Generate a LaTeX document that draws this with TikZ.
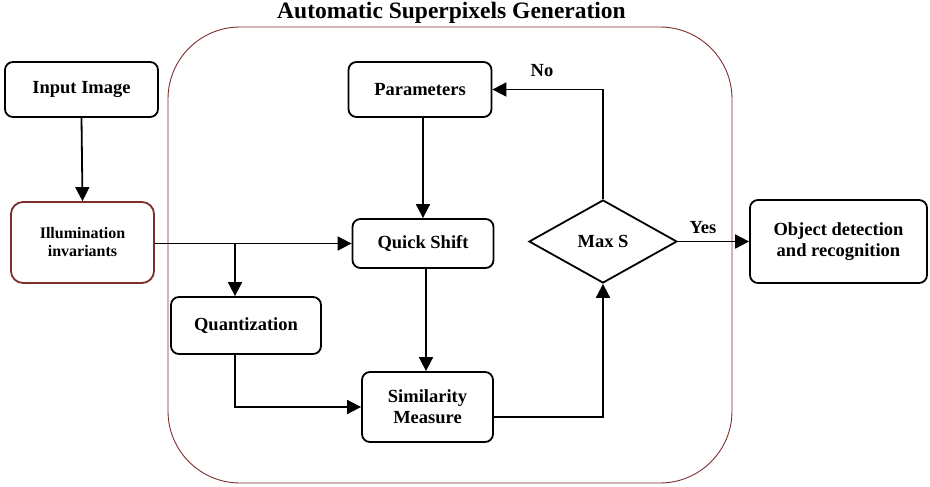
\documentclass[tikz,border=0pt]{standalone}
\usepackage{fontspec}
\setmainfont{Liberation Serif}
\usetikzlibrary{shapes.geometric,arrows.meta}
\definecolor{frame}{RGB}{125,45,45}
\tikzset{
  box/.style={draw=black, line width=1.8pt, rounded corners=8pt, rectangle, inner sep=0pt, align=center,
    font=\fontsize{18.5}{21}\selectfont\bfseries},
  conn/.style={line width=1.8pt, -{Triangle[length=14pt,width=14pt]}},
  lab/.style={font=\fontsize{18.5}{21}\selectfont\bfseries, inner sep=0pt}
}
\begin{document}
\begin{tikzpicture}[x=1pt,y=-1pt]
\useasboundingbox (0,0) rectangle (930,487);
% container
\node[draw=frame, line width=0.9pt, rounded corners=72pt, minimum width=564pt, minimum height=456pt, inner sep=0pt] (grp) at (450,255) {};
\node[anchor=base, inner sep=0pt, font=\fontsize{23.5}{26}\selectfont\bfseries] (title) at (451.5,18.5) {Automatic Superpixels Generation};
% nodes
\node[box, minimum width=153pt, minimum height=55pt] (inp) at (81.5,89.5) {Input Image};
\node[box, draw=frame, rounded corners=12pt, minimum width=143pt, minimum height=81pt, font=\fontsize{16}{18}\selectfont\bfseries] (ill) at (82.5,242.5) {Illumination\\invariants};
\node[box, minimum width=143pt, minimum height=55pt] (par) at (420,89.5) {Parameters};
\node[box, minimum width=141pt, minimum height=49pt] (qs) at (423,243.5) {Quick Shift};
\node[box, minimum width=150pt, minimum height=57pt] (quant) at (246,325.5) {Quantization};
\node[box, minimum width=131pt, minimum height=70pt] (sim) at (427.5,407) {Similarity\\Measure};
\node[draw, diamond, line width=1.8pt, inner sep=0pt, minimum width=148pt, minimum height=83pt, font=\fontsize{18.5}{21}\selectfont\bfseries] (maxs) at (603,241.5) {Max S};
\node[box, minimum width=177pt, minimum height=83pt] (obj) at (838.5,241.5) {Object detection\\and recognition};
% connectors
\draw[conn] (inp.south) -- (ill.north);
\draw[conn] (qs.north |- par.south) -- (qs.north);
\draw[conn] (ill.east |- qs.west) -- (qs.west);
\coordinate (br) at (235,243.5);
\draw[conn] (br) -- (br |- quant.north);
\draw[conn] (br |- quant.south) |- (sim.west);
\draw[conn] ([xshift=3pt]qs.south) -- ([xshift=3pt]qs.south |- sim.north);
\draw[conn] ([yshift=-10pt]sim.east) -| (maxs.south);
\draw[conn] (maxs.north) |- (par.east);
\draw[conn] (maxs.east) -- (obj.west);
\node[lab] (no) at (542,71) {No};
\node[lab] (yes) at (703,228) {Yes};
\end{tikzpicture}
\end{document}
